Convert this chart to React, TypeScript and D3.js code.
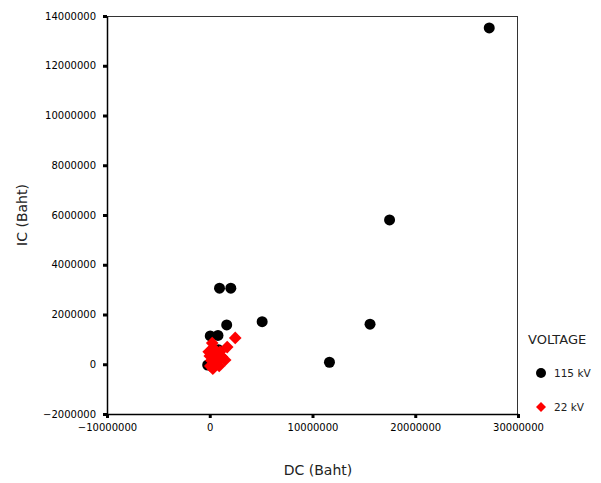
import { useEffect, useRef } from "react";
import * as d3 from "d3";

// 115 kV group (DC, IC in Baht)
const dc115 = [27200000, 17500000, 15600000, 11650000, 5100000, 950000, 2050000, 1650000, 50000, 800000, 850000, -200000];
const ic115 = [13520000, 5800000, 1610000, 80000, 1710000, 3060000, 3060000, 1580000, 1140000, 1160000, 580000, -30000];

// 22 kV group
const dc22 = [2480000, 1700000, 340000, 0, 1200000, 50000, 920000, 1500000, 600000, -100000, 240000, 1000000, 500000, 300000, 150000, 700000];
const ic22 = [1060000, 690000, 650000, 330000, 290000, -70000, -70000, 170000, 100000, 500000, 850000, 500000, 380000, -180000, 150000, 250000];

const xTicks = [-10000000, 0, 10000000, 20000000, 30000000];
const yTicks = [-2000000, 0, 2000000, 4000000, 6000000, 8000000, 10000000, 12000000, 14000000];

const legendLabels = ["115 kV", "22 kV"];

export default function App() {
  const ref = useRef<SVGSVGElement>(null);

  useEffect(() => {
    const svg = d3.select(ref.current);
    svg.selectAll("*").remove();

    const left = 107, right = 518, top = 16, bottom = 414;
    const font = "Tahoma, 'DejaVu Sans', sans-serif";

    const x = d3.scaleLinear().domain([-10000000, 30000000]).range([left, right]);
    const y = d3.scaleLinear().domain([-2000000, 14000000]).range([bottom, top]);

    svg.append("rect").attr("width", 601).attr("height", 483).attr("fill", "#fff");

    // frame
    svg.append("line").attr("x1", left).attr("x2", right).attr("y1", top + 0.5).attr("y2", top + 0.5)
      .attr("stroke", "#333").attr("stroke-width", 1);
    svg.append("line").attr("x1", right - 0.5).attr("x2", right - 0.5).attr("y1", top).attr("y2", bottom)
      .attr("stroke", "#333").attr("stroke-width", 1);

    const xAxis = svg.append("g")
      .attr("transform", `translate(0,${bottom})`)
      .call(d3.axisBottom(x).tickValues(xTicks).tickFormat(d3.format("d")).tickSize(4).tickSizeOuter(0));
    xAxis.select(".domain").attr("stroke", "#000").attr("stroke-width", 1.5);
    xAxis.selectAll(".tick line").attr("stroke", "#000").attr("stroke-width", 3);
    xAxis.selectAll("text").attr("font-family", font).attr("font-size", 10).attr("fill", "#000").attr("dy", "0.95em");

    const yAxis = svg.append("g")
      .attr("transform", `translate(${left},0)`)
      .call(d3.axisLeft(y).tickValues(yTicks).tickFormat(d3.format("d")).tickSize(4).tickSizeOuter(0));
    yAxis.select(".domain").attr("stroke", "#000").attr("stroke-width", 1.5);
    yAxis.selectAll(".tick line").attr("stroke", "#000").attr("stroke-width", 3);
    yAxis.selectAll("text").attr("font-family", font).attr("font-size", 10).attr("fill", "#000").attr("dx", "-0.4em");

    // axis titles
    svg.append("text").attr("x", 318).attr("y", 475).attr("text-anchor", "middle")
      .attr("font-family", font).attr("font-size", 14).attr("fill", "#222").text("DC (Baht)");
    svg.append("text").attr("transform", "translate(27,215) rotate(-90)").attr("text-anchor", "middle")
      .attr("font-family", font).attr("font-size", 14).attr("fill", "#222").text("IC (Baht)");

    // points
    svg.append("g").selectAll("circle")
      .data(d3.range(dc115.length))
      .join("circle")
      .attr("cx", (i) => x(dc115[i]))
      .attr("cy", (i) => y(ic115[i]))
      .attr("r", 5.5)
      .attr("fill", "#000");

    const diamond = d3.symbol().type(d3.symbolSquare).size(80);
    svg.append("g").selectAll("path")
      .data(d3.range(dc22.length))
      .join("path")
      .attr("d", diamond)
      .attr("transform", (i) => `translate(${x(dc22[i])},${y(ic22[i])}) rotate(45)`)
      .attr("fill", "#f00");

    // legend
    svg.append("text").attr("x", 528).attr("y", 344).attr("font-family", font).attr("font-size", 13)
      .attr("fill", "#222").text("VOLTAGE");
    const lg = svg.append("g");
    lg.append("circle").attr("cx", 541).attr("cy", 373).attr("r", 5).attr("fill", "#000");
    lg.append("path").attr("d", d3.symbol().type(d3.symbolSquare).size(50)())
      .attr("transform", "translate(541,407) rotate(45)").attr("fill", "#f00");
    legendLabels.forEach((t, i) => {
      lg.append("text").attr("x", 554).attr("y", 377 + i * 34).attr("font-family", font)
        .attr("font-size", 10.5).attr("fill", "#222").text(t);
    });
  }, []);

  return (
    <svg ref={ref} width={601} height={483} style={{ position: "absolute", left: 0, top: 0 }} />
  );
}
